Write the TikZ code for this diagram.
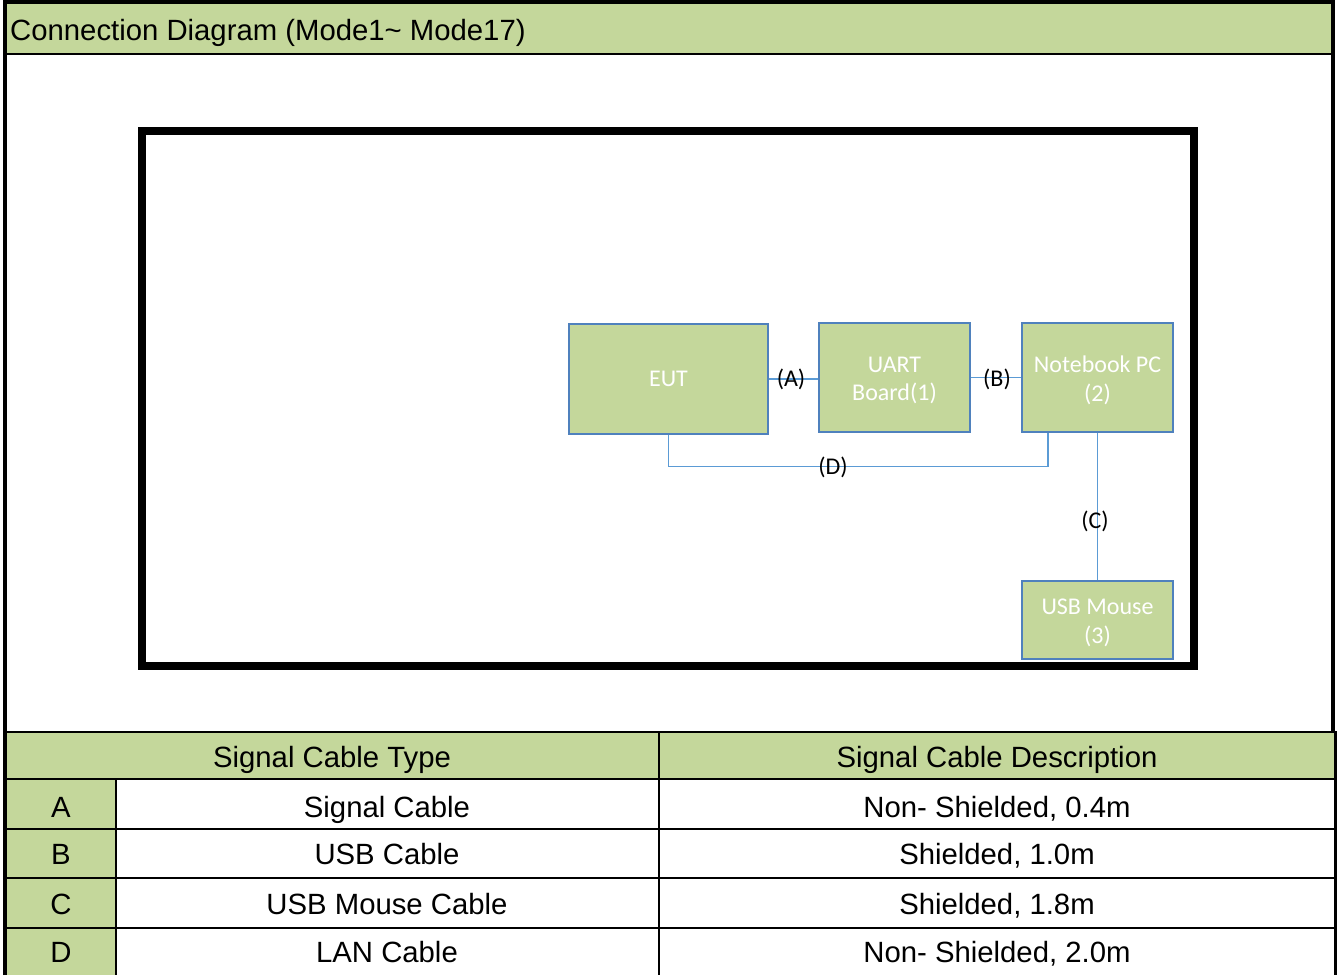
\documentclass[tikz,border=0pt]{standalone}
\usepackage{fontspec}
\setmainfont{Liberation Sans}
\newfontfamily\calibri{Carlito}
\definecolor{cellgreen}{HTML}{C4D79B}
\definecolor{boxline}{HTML}{4F81BD}
\definecolor{wire}{HTML}{5B9BD5}
\newcommand\lowered[1]{\raisebox{-3pt}[\height][\depth]{#1}}
\tikzset{
  unit/.style={draw=boxline, line width=1.2pt, fill=cellgreen, text=white,
    font=\calibri\fontsize{24}{28.5}\selectfont, align=center, inner sep=0pt},
  tag/.style={font=\calibri\fontsize{24}{29}\selectfont, inner sep=0pt},
  cell/.style={font=\fontsize{29.3}{33}\selectfont, inner sep=0pt,
    text height=21pt, text depth=5pt}
}
\begin{document}
\begin{tikzpicture}[x=1pt,y=-1pt]
  \useasboundingbox (0,0) rectangle (1339,975);
  % title bar
  \fill[cellgreen] (5,2) rectangle (1333,54);
  \draw[line width=2pt] (5,54) -- (1333,54);
  \node[cell, anchor=west] (title) at (10,32) {Connection Diagram (Mode1\textasciitilde{} Mode17)};
  % cable table
  \fill[cellgreen] (5,732) rectangle (1335,779);
  \fill[cellgreen] (5,779) rectangle (116,975);
  \foreach \y in {732,779,829,878,928}
    \draw[line width=2pt] (5,\y) -- (1335,\y);
  \draw[line width=2pt] (116,779) -- (116,975);
  \draw[line width=2pt] (659,732) -- (659,975);
  \draw[line width=4pt] (5,975) -- (5,2) -- (1333,2) -- (1333,732);
  \draw[line width=3pt] (1335,731) -- (1335,975);
  \node[cell] (typehead) at (332,759) {Signal Cable Type};
  \node[cell] (deschead) at (997,759) {Signal Cable Description};
  \foreach \k/\y/\type/\desc in {A/809/Signal Cable/{Non- Shielded, 0.4m},
      B/856/USB Cable/{Shielded, 1.0m},
      C/906/USB Mouse Cable/{Shielded, 1.8m},
      D/954/LAN Cable/{Non- Shielded, 2.0m}} {
    \node[cell] (key\k) at (61,\y) {\k};
    \node[cell] (type\k) at (387,\y) {\type};
    \node[cell] (desc\k) at (997,\y) {\desc};
  }
  % setup frame
  \draw[line width=8pt] (142,131) rectangle (1194,666);
  \node[unit, minimum width=199pt, minimum height=110pt] (eut) at (668.5,379) {EUT};
  \node[unit, minimum width=151pt, minimum height=109pt] (uart) at (894.5,377.5) {\lowered{UART}\\\lowered{Board(1)}};
  \node[unit, minimum width=151pt, minimum height=109pt] (nb) at (1097.5,377.5) {\lowered{Notebook PC}\\\lowered{(2)}};
  \node[unit, minimum width=151pt, minimum height=78pt] (mouse) at (1097.5,620) {\lowered{USB Mouse}\\\lowered{(3)}};
  \begin{scope}[draw=wire, line width=1.2pt]
    \draw (eut.east) -- (eut.east -| uart.west);
    \draw (uart.east) -- (nb.west);
    \draw (nb.south) -- (mouse.north);
    \draw (eut.south) -- ++(0,32) -| ([xshift=-49.5pt]nb.south);
  \end{scope}
  \node[tag] (labA) at (791,379) {(A)};
  \node[tag] (labB) at (997,379) {(B)};
  \node[tag] (labC) at (1095,521) {(C)};
  \node[tag] (labD) at (833,467) {(D)};
\end{tikzpicture}
\end{document}
